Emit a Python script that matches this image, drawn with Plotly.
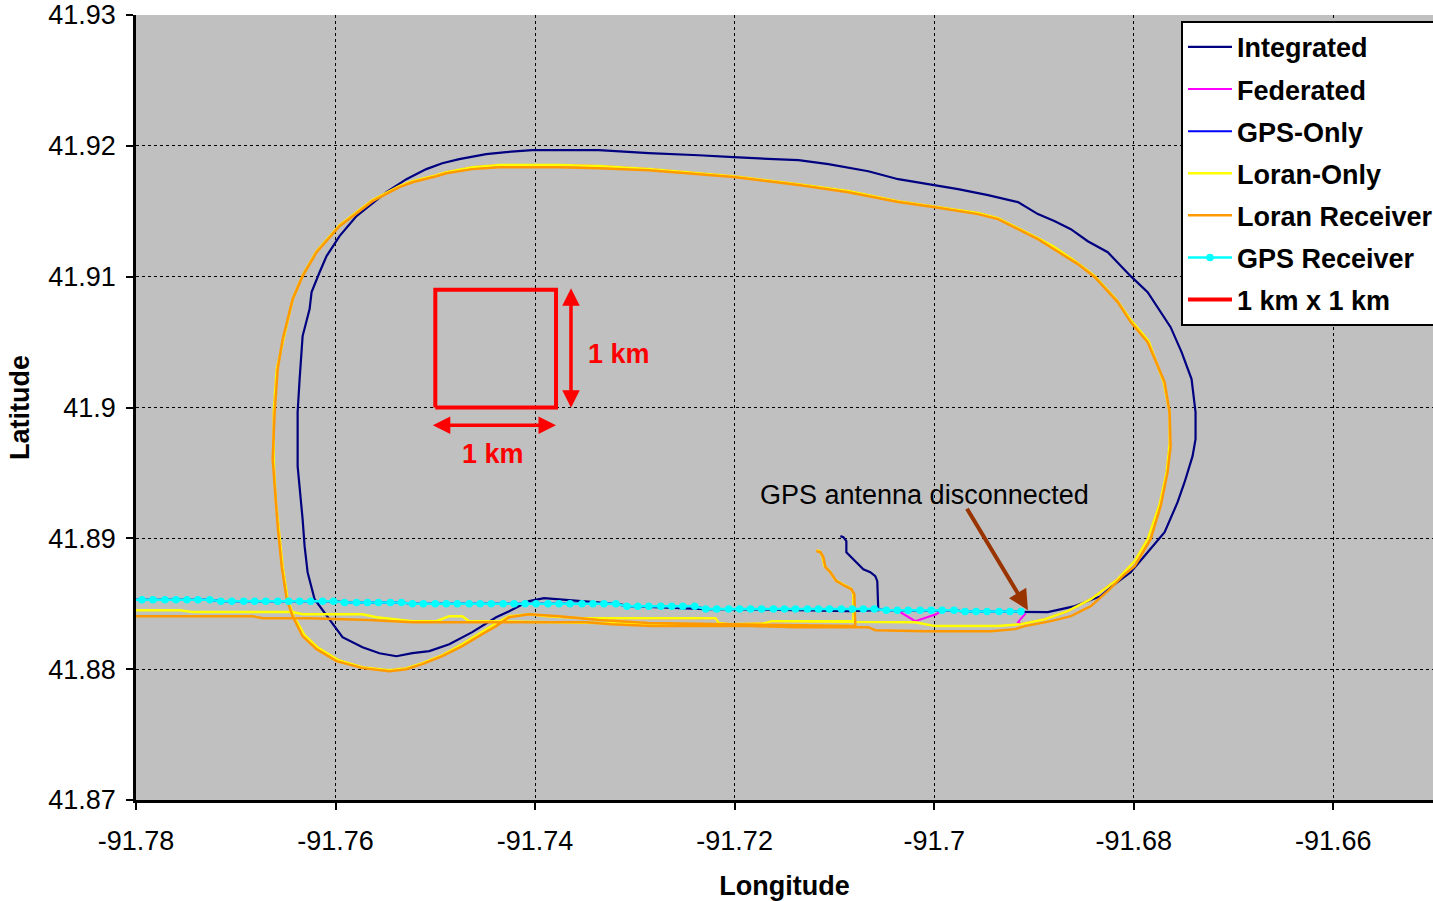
import plotly.graph_objects as go

# ---------------- data (longitude / latitude, degrees) ----------------
# GPS receiver fixes (road, before the antenna was disconnected)
gps_lon = [-91.7806, -91.7794, -91.7783, -91.7771, -91.7760, -91.7749, -91.7738, -91.7726, -91.7715, -91.7704,
           -91.7692, -91.7681, -91.7670, -91.7658, -91.7647, -91.7636, -91.7625, -91.7613, -91.7602, -91.7591,
           -91.7579, -91.7568, -91.7557, -91.7545, -91.7534, -91.7523, -91.7512, -91.7500, -91.7489, -91.7478,
           -91.7466, -91.7455, -91.7444, -91.7432, -91.7421, -91.7410, -91.7399, -91.7387, -91.7376, -91.7365,
           -91.7353, -91.7342, -91.7331, -91.7319, -91.7308, -91.7297, -91.7286, -91.7274, -91.7263, -91.7252,
           -91.7240, -91.7229, -91.7218, -91.7206, -91.7195, -91.7184, -91.7173, -91.7161, -91.7150, -91.7139,
           -91.7127, -91.7116, -91.7105, -91.7093, -91.7082, -91.7071, -91.7060, -91.7048, -91.7037, -91.7026,
           -91.7014, -91.7003, -91.6992, -91.6980, -91.6969, -91.6958, -91.6947, -91.6935, -91.6924, -91.6913]
gps_lat = [41.8853, 41.8853, 41.8853, 41.8853, 41.8853, 41.8853, 41.8853, 41.8853, 41.8852, 41.8852,
           41.8852, 41.8852, 41.8852, 41.8852, 41.8852, 41.8852, 41.8852, 41.8852, 41.8852, 41.8851,
           41.8851, 41.8851, 41.8851, 41.8851, 41.8851, 41.8850, 41.8850, 41.8850, 41.8850, 41.8850,
           41.8850, 41.8850, 41.8850, 41.8850, 41.8850, 41.8850, 41.8850, 41.8850, 41.8850, 41.8850,
           41.8850, 41.8850, 41.8850, 41.8850, 41.8848, 41.8848, 41.8848, 41.8848, 41.8848, 41.8848,
           41.8848, 41.8846, 41.8846, 41.8846, 41.8846, 41.8846, 41.8846, 41.8846, 41.8846, 41.8846,
           41.8846, 41.8846, 41.8846, 41.8846, 41.8846, 41.8846, 41.8846, 41.8845, 41.8845, 41.8845,
           41.8845, 41.8845, 41.8845, 41.8845, 41.8844, 41.8844, 41.8844, 41.8844, 41.8844, 41.8844]

# Integrated solution after the GPS antenna was disconnected
integ_after_lon = [-91.6906, -91.6886, -91.6859, -91.6833, -91.6819, -91.6803, -91.6786, -91.6769, -91.6756, -91.6749,
                   -91.6741, -91.6738, -91.6738, -91.6742, -91.6752, -91.6763, -91.6786, -91.6803, -91.6826, -91.6846,
                   -91.6863, -91.6879, -91.6896, -91.6916, -91.6946, -91.6976, -91.7006, -91.7036, -91.7066, -91.7106,
                   -91.7136, -91.7166, -91.7201, -91.7236, -91.7286, -91.7336, -91.7376, -91.7403, -91.7429, -91.7449,
                   -91.7476, -91.7493, -91.7509, -91.7529, -91.7549, -91.7566, -91.7579, -91.7596, -91.7609, -91.7616,
                   -91.7624, -91.7626, -91.7633, -91.7636, -91.7638, -91.7638, -91.7636, -91.7633, -91.7631, -91.7628,
                   -91.7621, -91.7606, -91.7593, -91.7573, -91.7556, -91.7539, -91.7523, -91.7506, -91.7486, -91.7463,
                   -91.7439, -91.7426, -91.7406, -91.7391, -91.7366, -91.7356, -91.7316, -91.7306, -91.7229, -91.7136,
                   -91.7086, -91.7056, -91.7057, -91.7059, -91.7064, -91.7071, -91.7079, -91.7088, -91.7088, -91.7091,
                   -91.7094]
integ_after_lat = [41.88436, 41.88436, 41.88482, 41.88558, 41.88650, 41.88741, 41.88894, 41.89047, 41.89276, 41.89429,
                   41.89628, 41.89758, 41.89964, 41.90217, 41.90423, 41.90614, 41.90882, 41.91004, 41.91187, 41.91271,
                   41.91363, 41.91424, 41.91478, 41.91570, 41.91623, 41.91669, 41.91707, 41.91745, 41.91806, 41.91860,
                   41.91890, 41.91898, 41.91913, 41.91928, 41.91944, 41.91967, 41.91967, 41.91967, 41.91952, 41.91936,
                   41.91898, 41.91867, 41.91822, 41.91745, 41.91646, 41.91539, 41.91463, 41.91310, 41.91157, 41.91034,
                   41.90882, 41.90752, 41.90546, 41.90217, 41.89964, 41.89552, 41.89399, 41.89147, 41.88940, 41.88741,
                   41.88535, 41.88382, 41.88245, 41.88168, 41.88122, 41.88099, 41.88122, 41.88138, 41.88191, 41.88283,
                   41.88397, 41.88443, 41.88520, 41.88543, 41.88527, 41.88520, 41.88497, 41.88482, 41.88459, 41.88451,
                   41.88443, 41.88451, 41.88673, 41.88711, 41.88741, 41.88764, 41.88826, 41.88894, 41.88978, 41.89009,
                   41.89017]

# Loran receiver: outbound road, loop, return road and final branch
loran_rx_lon = [-91.7806, -91.7683, -91.7673, -91.7626, -91.7566, -91.7523, -91.7406, -91.7349, -91.7323, -91.7283,
                -91.7183, -91.7139, -91.7066, -91.7059, -91.7009, -91.6943, -91.6919, -91.6909,
                -91.6883, -91.6863, -91.6843, -91.6826, -91.6809, -91.6799, -91.6783, -91.6773, -91.6766, -91.6763,
                -91.6764, -91.6769, -91.6786, -91.6803, -91.6816, -91.6839, -91.6856, -91.6883, -91.6896, -91.6936,
                -91.6956, -91.7001, -91.7036, -91.7086, -91.7136, -91.7201, -91.7236, -91.7286, -91.7336, -91.7376,
                -91.7436, -91.7463, -91.7489, -91.7499, -91.7523, -91.7536, -91.7563, -91.7576, -91.7596, -91.7619,
                -91.7633, -91.7643, -91.7653, -91.7658, -91.7661, -91.7663, -91.7660, -91.7658, -91.7654, -91.7649,
                -91.7643, -91.7633, -91.7619, -91.7599, -91.7573, -91.7546, -91.7529, -91.7513, -91.7493, -91.7473,
                -91.7453, -91.7439, -91.7426, -91.7406,
                -91.7376, -91.7336, -91.7286, -91.7216, -91.7136, -91.7079,
                -91.7080, -91.7083, -91.7089, -91.7098, -91.7104, -91.7109, -91.7111, -91.7114, -91.7118]
loran_rx_lat = [41.88405, 41.88405, 41.88390, 41.88390, 41.88375, 41.88359, 41.88359, 41.88359, 41.88344, 41.88329,
                41.88329, 41.88321, 41.88321, 41.88298, 41.88290, 41.88290, 41.88306, 41.88329,
                41.88367, 41.88405, 41.88482, 41.88596, 41.88726, 41.88787, 41.88994, 41.89246, 41.89506, 41.89705,
                41.89964, 41.90194, 41.90499, 41.90653, 41.90806, 41.90996, 41.91096, 41.91226, 41.91287, 41.91440,
                41.91478, 41.91532, 41.91570, 41.91646, 41.91700, 41.91761, 41.91784, 41.91814, 41.91829, 41.91837,
                41.91837, 41.91822, 41.91791, 41.91768, 41.91722, 41.91684, 41.91577, 41.91501, 41.91386, 41.91187,
                41.91004, 41.90828, 41.90522, 41.90293, 41.89964, 41.89605, 41.89299, 41.89093, 41.88787, 41.88535,
                41.88405, 41.88252, 41.88153, 41.88061, 41.88008, 41.87985, 41.88000, 41.88038, 41.88099, 41.88176,
                41.88268, 41.88329, 41.88397, 41.88420,
                41.88405, 41.88375, 41.88352, 41.88344, 41.88336, 41.88329,
                41.88573, 41.88611, 41.88634, 41.88673, 41.88741, 41.88780, 41.88856, 41.88894, 41.88902]

# Loran-only solution: outbound road part
loran_only_road_lon = [-91.7806, -91.7756, -91.7743, -91.7643, -91.7633, -91.7573, -91.7559, -91.7523, -91.7499, -91.7486,
                       -91.7473, -91.7466, -91.7453, -91.7406, -91.7336, -91.7236, -91.7176, -91.7163, -91.7076, -91.7019,
                       -91.6999, -91.6936]
loran_only_road_lat = [41.88451, 41.88451, 41.88436, 41.88436, 41.88420, 41.88420, 41.88397, 41.88367, 41.88367, 41.88405,
                       41.88405, 41.88367, 41.88367, 41.88359, 41.88352, 41.88336, 41.88336, 41.88367, 41.88359, 41.88359,
                       41.88329, 41.88329]
# Loran-only solution: loop, return road and final branch
loran_only_loop_lon = [-91.6913, -91.6889, -91.6866, -91.6843, -91.6816, -91.6799, -91.6786, -91.6774, -91.6767, -91.6764,
                       -91.6764, -91.6770, -91.6785, -91.6802, -91.6817, -91.6839, -91.6857, -91.6881, -91.6896, -91.6936,
                       -91.6956, -91.7001, -91.7036, -91.7086, -91.7136, -91.7201, -91.7236, -91.7286, -91.7336, -91.7376,
                       -91.7436, -91.7463, -91.7489, -91.7499, -91.7523, -91.7536, -91.7563, -91.7576, -91.7596, -91.7619,
                       -91.7633, -91.7643, -91.7652, -91.7659, -91.7662, -91.7662, -91.7660, -91.7657, -91.7653, -91.7648,
                       -91.7642, -91.7631, -91.7617, -91.7597, -91.7573, -91.7546, -91.7529, -91.7513, -91.7493, -91.7473,
                       -91.7453, -91.7439, -91.7426, -91.7406,
                       -91.7389, -91.7353, -91.7319, -91.7219, -91.7216, -91.7203, -91.7169, -91.7163, -91.7081,
                       -91.7081, -91.7084, -91.7090, -91.7099, -91.7105, -91.7110, -91.7112, -91.7115, -91.7118]
loran_only_loop_lat = [41.88344, 41.88382, 41.88443, 41.88535, 41.88688, 41.88826, 41.88994, 41.89261, 41.89506, 41.89720,
                       41.89964, 41.90194, 41.90507, 41.90660, 41.90821, 41.91004, 41.91111, 41.91233, 41.91294, 41.91447,
                       41.91486, 41.91539, 41.91577, 41.91654, 41.91707, 41.91768, 41.91791, 41.91822, 41.91845, 41.91853,
                       41.91853, 41.91837, 41.91799, 41.91776, 41.91730, 41.91692, 41.91585, 41.91508, 41.91394, 41.91195,
                       41.91011, 41.90828, 41.90522, 41.90293, 41.89964, 41.89605, 41.89299, 41.89093, 41.88787, 41.88535,
                       41.88405, 41.88260, 41.88161, 41.88069, 41.88015, 41.87992, 41.88008, 41.88046, 41.88107, 41.88191,
                       41.88283, 41.88352, 41.88405, 41.88420,
                       41.88405, 41.88390, 41.88390, 41.88390, 41.88352, 41.88344, 41.88352, 41.88367, 41.88367,
                       41.88581, 41.88619, 41.88642, 41.88681, 41.88749, 41.88787, 41.88864, 41.88902, 41.88909]

# Federated glitches near the disconnect
fed_glitch_lon = [-91.7019, -91.6998]
fed_glitch_lat = [41.88367, 41.88420]
fed_drop_lon = [-91.6909, -91.6916]
fed_drop_lat = [41.88420, 41.88359]

# 1 km x 1 km reference square
square_lon = [-91.7500, -91.7379, -91.7379, -91.7500, -91.7500]
square_lat = [41.9000, 41.9000, 41.9090, 41.9090, 41.9000]

# annotation anchors
hkm_arrow_lon = [-91.7504, -91.7379]
hkm_arrow_lat = 41.89865
vkm_arrow_lon = -91.7364
vkm_arrow_lat = [41.89987, 41.90912]
hkm_label = (-91.7442, 41.89644)
vkm_label = (-91.7316, 41.90409)
disc_text = (-91.7010, 41.89330)
disc_tail = (-91.6968, 41.89238)
disc_head = (-91.6906, 41.88451)

x_ticks = [-91.78, -91.76, -91.74, -91.72, -91.70, -91.68, -91.66]
x_ticktext = ["-91.78", "-91.76", "-91.74", "-91.72", "-91.7", "-91.68", "-91.66"]
y_ticks = [41.87, 41.88, 41.89, 41.90, 41.91, 41.92, 41.93]
y_ticktext = ["41.87", "41.88", "41.89", "41.9", "41.91", "41.92", "41.93"]

# ---------------- derived series ----------------
integ_lon = gps_lon + integ_after_lon
integ_lat = gps_lat + integ_after_lat
loran_only_lon = loran_only_road_lon + loran_only_loop_lon
loran_only_lat = loran_only_road_lat + loran_only_loop_lat
fed_lon = gps_lon[:69] + fed_glitch_lon + gps_lon[72:] + fed_drop_lon + loran_only_loop_lon
fed_lat = gps_lat[:69] + fed_glitch_lat + gps_lat[72:] + fed_drop_lat + loran_only_loop_lat

FONT = "Arial, Liberation Sans, sans-serif"

fig = go.Figure()
series = [
    ("Integrated", integ_lon, integ_lat, "#000080", 2.2),
    ("Federated", fed_lon, fed_lat, "#FF00FF", 2),
    ("GPS-Only", gps_lon, gps_lat, "#0000FF", 2),
    ("Loran-Only", loran_only_lon, loran_only_lat, "#FFFF00", 2.5),
    ("Loran Receiver", loran_rx_lon, loran_rx_lat, "#FF9900", 2.5),
]
for i, (name, xs, ys, col, w) in enumerate(series):
    fig.add_trace(go.Scatter(x=xs, y=ys, mode="lines", name=name, legendgroup=str(i),
                             line=dict(color=col, width=w)))
fig.add_trace(go.Scatter(x=gps_lon, y=gps_lat, mode="lines+markers", name="GPS Receiver", legendgroup="5",
                         line=dict(color="#00FFFF", width=2.5),
                         marker=dict(color="#00FFFF", size=7.5, symbol="circle")))
fig.add_trace(go.Scatter(x=square_lon, y=square_lat, mode="lines", name="1 km x 1 km", legendgroup="6",
                         line=dict(color="#FF0000", width=4)))

annotations = [
    dict(x=hkm_arrow_lon[1], y=hkm_arrow_lat, ax=hkm_arrow_lon[0], ay=hkm_arrow_lat, xref="x", yref="y",
         axref="x", ayref="y", text="", showarrow=True, arrowcolor="#FF0000", arrowwidth=3.5,
         arrowhead=2, arrowsize=1, startarrowhead=2, startarrowsize=1, arrowside="end+start"),
    dict(x=vkm_arrow_lon, y=vkm_arrow_lat[1], ax=vkm_arrow_lon, ay=vkm_arrow_lat[0], xref="x", yref="y",
         axref="x", ayref="y", text="", showarrow=True, arrowcolor="#FF0000", arrowwidth=3.5,
         arrowhead=2, arrowsize=1, startarrowhead=2, startarrowsize=1, arrowside="end+start"),
    dict(x=hkm_label[0], y=hkm_label[1], xref="x", yref="y", text="<b>1 km</b>", showarrow=False,
         font=dict(family=FONT, size=27, color="#FF0000")),
    dict(x=vkm_label[0], y=vkm_label[1], xref="x", yref="y", text="<b>1 km</b>", showarrow=False,
         font=dict(family=FONT, size=27, color="#FF0000")),
    dict(x=disc_text[0], y=disc_text[1], xref="x", yref="y", text="GPS antenna disconnected", showarrow=False,
         font=dict(family=FONT, size=27, color="#000000")),
    dict(x=disc_head[0], y=disc_head[1], ax=disc_tail[0], ay=disc_tail[1], xref="x", yref="y",
         axref="x", ayref="y", text="", showarrow=True, arrowcolor="#993300", arrowwidth=4,
         arrowhead=2, arrowsize=1),
]

axis_common = dict(showgrid=True, gridcolor="#000000", griddash="dot", gridwidth=1,
                   ticks="outside", ticklen=7, tickwidth=1.5, tickcolor="#000000",
                   showline=True, linecolor="#000000", linewidth=2.5, zeroline=False,
                   tickfont=dict(family=FONT, size=27, color="#000000"))

fig.update_layout(
    width=1433, height=901,
    margin=dict(l=136, r=0, t=15, b=101, autoexpand=False),
    paper_bgcolor="#FFFFFF", plot_bgcolor="#C0C0C0",
    font=dict(family=FONT, color="#000000"),
    xaxis=dict(range=[-91.78, -91.65], tickvals=x_ticks, ticktext=x_ticktext, ticklabelstandoff=8,
               title=dict(text="<b>Longitude</b>", font=dict(family=FONT, size=27), standoff=22),
               **axis_common),
    yaxis=dict(range=[41.87, 41.93], tickvals=y_ticks, ticktext=y_ticktext, ticklabelstandoff=5,
               title=dict(text="<b>Latitude</b>", font=dict(family=FONT, size=27), standoff=11),
               **axis_common),
    legend=dict(x=0.8057, y=0.9925, xanchor="left", yanchor="top", bgcolor="#FFFFFF",
                bordercolor="#000000", borderwidth=2, itemwidth=44, tracegroupgap=4,
                traceorder="grouped",
                font=dict(family=FONT, size=27, color="#000000", weight="bold")),
    annotations=annotations,
    showlegend=True,
)

fig.write_html("out.html")
